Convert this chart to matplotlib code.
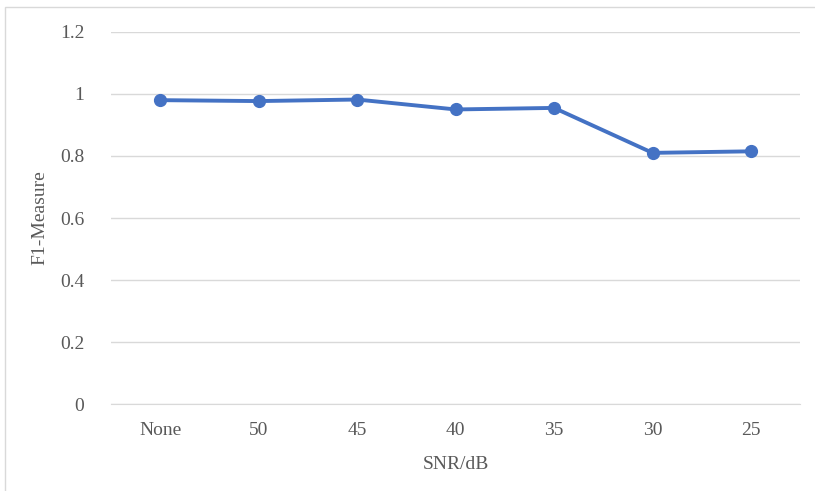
import matplotlib.pyplot as plt
from matplotlib.patches import Rectangle

# Data
snr_labels = ['None', '50', '45', '40', '35', '30', '25']
f1_scores = [0.980, 0.977, 0.982, 0.950, 0.955, 0.810, 0.815]
y_ticks = [0, 0.2, 0.4, 0.6, 0.8, 1.0, 1.2]
y_tick_labels = ['0', '0.2', '0.4', '0.6', '0.8', '1', '1.2']

plt.rcParams['font.family'] = ['Liberation Serif', 'DejaVu Serif']

fig = plt.figure(figsize=(8.15, 4.91), dpi=100)
ax = fig.add_axes([0.136, 0.177, 0.846, 0.758])

# chart frame
fig.patches.append(Rectangle((5 / 815, -0.05), 1.0, 1 - 7 / 491 + 0.05,
                             transform=fig.transFigure, fill=False,
                             edgecolor='#D9D9D9', linewidth=1.0))

x = list(range(len(snr_labels)))
ax.plot(x, f1_scores, color='#4472C4', linewidth=2.8, marker='o',
        markersize=8.5, zorder=3)

ax.set_xlim(-0.5, len(snr_labels) - 0.5)
ax.set_ylim(0, 1.2)
ax.set_xticks(x)
ax.set_xticklabels(snr_labels)
ax.set_yticks(y_ticks)
ax.set_yticklabels(y_tick_labels)

ax.grid(True, axis='y', color='#D9D9D9', linewidth=1.0)
ax.set_axisbelow(True)
for s in ax.spines.values():
    s.set_visible(False)
ax.spines['bottom'].set_visible(True)
ax.spines['bottom'].set_color('#D9D9D9')
ax.tick_params(length=0, labelsize=14, colors='#595959', pad=13)
ax.tick_params(axis='y', pad=19)

ax.set_xlabel('SNR/dB', fontsize=14, color='#595959', labelpad=12)
ax.set_ylabel('F1-Measure', fontsize=14, color='#595959', labelpad=8)

fig.savefig('out.png', dpi=100)
